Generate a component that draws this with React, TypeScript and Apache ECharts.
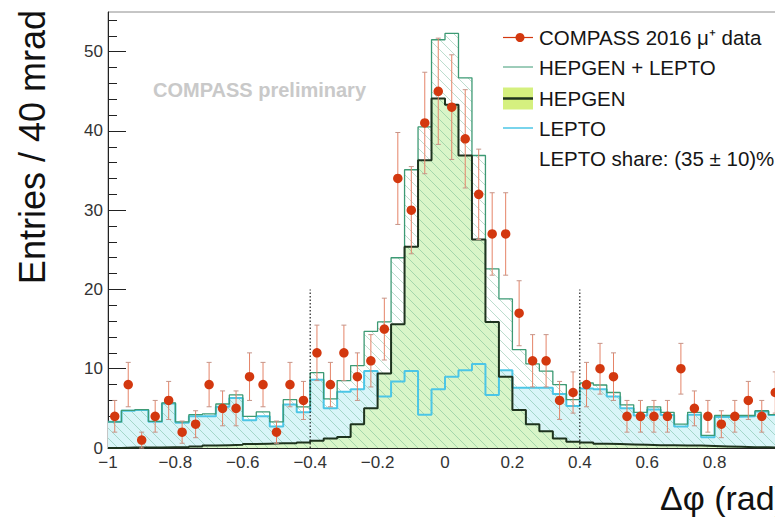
import { useEffect, useRef } from 'react';
import * as echarts from 'echarts';

// ---------------- data ----------------
const BIN_WIDTH = 0.04; // 40 mrad bins

const binCenters = [
  -0.98, -0.94, -0.9, -0.86, -0.82, -0.78, -0.74, -0.7, -0.66, -0.62,
  -0.58, -0.54, -0.5, -0.46, -0.42, -0.38, -0.34, -0.3, -0.26, -0.22,
  -0.18, -0.14, -0.1, -0.06, -0.02, 0.02, 0.06, 0.1, 0.14, 0.18,
  0.22, 0.26, 0.3, 0.34, 0.38, 0.42, 0.46, 0.5, 0.54, 0.58,
  0.62, 0.66, 0.7, 0.74, 0.78, 0.82, 0.86, 0.9, 0.94, 0.98,
];

// COMPASS 2016 mu+ data (entries per bin)
const dataCounts = [
  4, 8, 1, 4, 6, 2, 3, 8, 5, 5,
  9, 8, 2, 8, 6, 12, 8, 12, 9, 11,
  15, 34, 30, 41, 45, 43, 39, 32, 27, 27,
  17, 11, 11, 6, 7, 8, 10, 9, 4, 4,
  4, 4, 10, 5, 4, 3, 4, 6, 4, 7,
];

// statistical uncertainty of each data point
const dataErrors = [
  2.0, 2.8, 1.0, 2.0, 2.4, 1.4, 1.7, 2.8, 2.2, 2.2,
  3.0, 2.8, 1.4, 2.8, 2.4, 3.5, 2.8, 3.5, 3.0, 3.3,
  3.9, 5.8, 5.5, 6.4, 6.7, 6.6, 6.2, 5.7, 5.2, 5.2,
  4.1, 3.3, 3.3, 2.4, 2.6, 2.8, 3.2, 3.0, 2.0, 2.0,
  2.0, 2.0, 3.2, 2.2, 2.0, 1.7, 2.0, 2.4, 2.0, 2.6,
];

// HEPGEN (exclusive rho0) histogram
const hepgen = [
  0, 0.05, 0.05, 0.05, 0.1, 0.1, 0.2, 0.3, 0.35, 0.4,
  0.5, 0.55, 0.6, 0.6, 0.7, 0.9, 1.2, 1.4, 3.0, 5.0,
  9.4, 15.6, 25.4, 36.3, 44.1, 43.3, 36.9, 26.3, 15.9, 9.0,
  4.8, 3.0, 2.1, 1.2, 0.8, 0.7, 0.55, 0.5, 0.45, 0.4,
  0.35, 0.35, 0.3, 0.3, 0.25, 0.2, 0.15, 0.1, 0.1, 0.05,
];

// LEPTO (SIDIS background) histogram
const lepto = [
  3.3, 4.7, 4.8, 3.3, 5.6, 3.2, 4.0, 4.0, 5.2, 6.3,
  3.5, 4.0, 2.7, 5.5, 4.5, 8.6, 5.0, 7.1, 7.4, 9.7,
  6.5, 8.4, 9.7, 4.2, 7.4, 9.0, 9.8, 10.6, 6.7, 9.8,
  7.6, 7.6, 7.6, 6.8, 5.3, 7.5, 7.4, 6.5, 5.0, 4.1,
  4.85, 4.15, 2.7, 4.2, 1.35, 3.9, 3.95, 4.0, 4.6, 4.15,
];

const xTickLabels = [-1, -0.8, -0.6, -0.4, -0.2, 0, 0.2, 0.4, 0.6, 0.8, 1];
const yTickLabels = [0, 10, 20, 30, 40, 50];
const yMinorTicks = [2, 4, 6, 8, 12, 14, 16, 18, 22, 24, 26, 28, 32, 34, 36, 38, 42, 44, 46, 48, 52, 54];
const cutPositions = [-0.4, 0.4];
const cutHeight = 20;

const legendLabels = [
  'COMPASS 2016 \u03bc\u207a data',
  'HEPGEN + LEPTO',
  'HEPGEN',
  'LEPTO',
  'LEPTO share: (35 \u00b1 10)%',
];
const watermark = 'COMPASS preliminary';
const xTitle = '\u0394\u03c6 (rad)';
const yTitle = 'Entries / 40 mrad';

// ---------------- styling ----------------
const FONT = '"Liberation Sans", Arial, Helvetica, sans-serif';
const C_DATA = '#d3380f';
const C_ERR = '#e58468';
const C_CAP = '#c49488';
const C_TOTAL = '#3d9a74';
const C_HEP_LINE = '#1e331e';
const C_HEP_FILL = '#d9f5c8';
const C_HEP_LEG = '#d5f07f';
const C_LEP_LINE = '#4cc6e6';
const C_LEP_FILL = '#d9f5f8';
const C_HATCH = 'rgba(70,160,120,0.36)';
const C_AXIS = '#222';
const HATCH_SPACING = 10;

const total = hepgen.map((h, i) => h + lepto[i]);
const n = binCenters.length;

function stepData(vals: number[]) {
  const pts: number[][] = vals.map((v, i) => [binCenters[i] - BIN_WIDTH / 2, v]);
  pts.push([binCenters[n - 1] + BIN_WIDTH / 2, vals[n - 1]]);
  return pts;
}

function fmtX(v: number) {
  const r = Math.round(v * 100) / 100;
  return r < 0 ? '\u2212' + String(-r) : String(r);
}

function buildOption(): any {
  const hatchData = total.map((t, i) => [binCenters[i] - BIN_WIDTH / 2, binCenters[i] + BIN_WIDTH / 2, t]);
  const errData = dataCounts.map((c, i) => [binCenters[i], c, dataErrors[i]]);
  const ptData = dataCounts.map((c, i) => [binCenters[i], c]);

  const legendY = [37.5, 67, 98.5, 128, 158];
  const lx0 = 503;
  const lx1 = 533;

  const graphic: any[] = [
    {
      type: 'text', x: 153, y: 90, silent: true,
      style: { text: watermark, font: `bold 20px ${FONT}`, fill: '#c9c9c9', align: 'left', verticalAlign: 'middle', textAlign: 'left', textVerticalAlign: 'middle' },
    },
    {
      type: 'text', x: 32, y: 10, rotation: Math.PI / 2, silent: true,
      style: { text: yTitle, font: `36px ${FONT}`, fill: '#111', align: 'right', verticalAlign: 'middle', textAlign: 'right', textVerticalAlign: 'middle' },
    },
    {
      type: 'text', x: 786, y: 498, silent: true,
      style: { text: xTitle, font: `34px ${FONT}`, fill: '#111', align: 'right', verticalAlign: 'middle', textAlign: 'right', textVerticalAlign: 'middle' },
    },
    // legend symbols
    { type: 'line', shape: { x1: lx0, y1: legendY[0], x2: lx1, y2: legendY[0] }, style: { stroke: C_DATA, lineWidth: 1.2 } },
    { type: 'circle', shape: { cx: 520, cy: legendY[0], r: 4.5 }, style: { fill: C_DATA } },
    { type: 'line', shape: { x1: lx0, y1: legendY[1], x2: lx1, y2: legendY[1] }, style: { stroke: C_TOTAL, lineWidth: 1 } },
    { type: 'rect', shape: { x: lx0, y: legendY[2] - 11, width: lx1 - lx0, height: 22 }, style: { fill: C_HEP_LEG } },
    { type: 'line', shape: { x1: lx0, y1: legendY[2], x2: lx1, y2: legendY[2] }, style: { stroke: C_HEP_LINE, lineWidth: 2.5 } },
    { type: 'line', shape: { x1: lx0, y1: legendY[3], x2: lx1, y2: legendY[3] }, style: { stroke: C_LEP_LINE, lineWidth: 1.5 } },
  ];
  legendLabels.forEach((t, i) => {
    graphic.push({
      type: 'text', x: 539, y: legendY[i], silent: true,
      style: { text: t, font: `20.5px ${FONT}`, fill: '#151515', align: 'left', verticalAlign: 'middle', textAlign: 'left', textVerticalAlign: 'middle' },
    });
  });

  const series: any[] = [
    {
      type: 'line', step: 'end', data: stepData(lepto), symbol: 'none', silent: true, z: 1,
      lineStyle: { width: 0, opacity: 0 }, areaStyle: { color: C_LEP_FILL, opacity: 1 },
    },
    {
      type: 'line', step: 'end', data: stepData(hepgen), symbol: 'none', silent: true, z: 2,
      lineStyle: { width: 0, opacity: 0 }, areaStyle: { color: C_HEP_FILL, opacity: 1 },
    },
    {
      type: 'custom', data: hatchData, silent: true, z: 3,
      encode: { x: [0, 1], y: 2 },
      renderItem: (_p: any, api: any) => {
        const bl = api.coord([api.value(0), 0]);
        const tr = api.coord([api.value(1), api.value(2)]);
        const xL = bl[0], yB = bl[1], xR = tr[0], yT = tr[1];
        const children: any[] = [];
        const cMin = Math.ceil((yT - xR) / HATCH_SPACING) * HATCH_SPACING;
        for (let c = cMin; c <= yB - xL; c += HATCH_SPACING) {
          const xa = Math.max(xL, yT - c);
          const xb = Math.min(xR, yB - c);
          if (xb - xa > 0.2) {
            children.push({ type: 'line', shape: { x1: xa, y1: xa + c, x2: xb, y2: xb + c }, style: { stroke: C_HATCH, lineWidth: 1 } });
          }
        }
        return { type: 'group', children };
      },
    },
    {
      type: 'line', step: 'end', data: stepData(lepto), symbol: 'none', silent: true, z: 4,
      lineStyle: { color: C_LEP_LINE, width: 2 },
    },
    {
      type: 'line', step: 'end', data: stepData(total), symbol: 'none', silent: true, z: 5,
      lineStyle: { color: C_TOTAL, width: 1.3 },
    },
    {
      type: 'line', step: 'end', data: stepData(hepgen), symbol: 'none', silent: true, z: 6,
      lineStyle: { color: C_HEP_LINE, width: 2 },
    },
    ...cutPositions.map((p) => ({
      type: 'line', data: [[p, 0], [p, cutHeight]], symbol: 'none', silent: true, z: 7,
      lineStyle: { color: '#222', width: 1.2, type: [1.5, 2] },
    })),
    {
      type: 'custom', data: errData, silent: true, z: 8,
      encode: { x: 0, y: 1 },
      renderItem: (_p: any, api: any) => {
        const x = api.value(0), v = api.value(1), e = api.value(2);
        const top = api.coord([x, v + e]);
        const bot = api.coord([x, Math.max(0, v - e)]);
        return {
          type: 'group',
          children: [
            { type: 'line', shape: { x1: top[0], y1: top[1], x2: bot[0], y2: bot[1] }, style: { stroke: C_ERR, lineWidth: 1 } },
            { type: 'line', shape: { x1: top[0] - 2.5, y1: top[1], x2: top[0] + 2.5, y2: top[1] }, style: { stroke: C_CAP, lineWidth: 1 } },
            { type: 'line', shape: { x1: bot[0] - 2.5, y1: bot[1], x2: bot[0] + 2.5, y2: bot[1] }, style: { stroke: C_CAP, lineWidth: 1 } },
          ],
        };
      },
    },
    {
      type: 'scatter', data: ptData, symbol: 'circle', symbolSize: 9.5, silent: true, z: 9,
      itemStyle: { color: C_DATA, opacity: 1 },
    },
  ];

  return {
    animation: false,
    backgroundColor: '#ffffff',
    textStyle: { fontFamily: FONT },
    grid: {
      left: 108, top: 12, width: 674, height: 436,
      show: true, borderColor: '#8c8c8c', borderWidth: 1, backgroundColor: 'transparent',
      outerBoundsMode: 'none', containLabel: false,
    },
    xAxis: {
      type: 'value', min: -1, max: 1, interval: 0.2, position: 'bottom',
      axisLine: { show: true, onZero: false, lineStyle: { color: C_AXIS, width: 1 } },
      axisTick: { show: true, inside: true, length: 8, lineStyle: { color: C_AXIS, width: 1 } },
      minorTick: { show: true, splitNumber: 4, length: 5, lineStyle: { color: C_AXIS, width: 1 } },
      axisLabel: { show: true, fontSize: 17, color: '#333', margin: 6, fontFamily: FONT, formatter: fmtX, customValues: xTickLabels },
      splitLine: { show: false },
      minorSplitLine: { show: false },
    },
    yAxis: [
      {
        type: 'value', min: 0, max: 55, interval: 10, position: 'left',
        axisLine: { show: true, onZero: false, lineStyle: { color: C_AXIS, width: 1 } },
        axisTick: { show: true, inside: true, length: 18, lineStyle: { color: C_AXIS, width: 1 }, customValues: yTickLabels },
        axisLabel: {
          show: true, fontSize: 17, color: '#333', margin: 5, fontFamily: FONT, customValues: yTickLabels,
          formatter: (v: number) => (v % 10 === 0 ? String(v) : ''),
        },
        splitLine: { show: false },
      },
      {
        type: 'value', min: 0, max: 55, interval: 2, position: 'left', offset: 0,
        axisLine: { show: false, onZero: false },
        axisTick: { show: true, inside: true, length: 9, lineStyle: { color: C_AXIS, width: 1 }, customValues: yMinorTicks },
        axisLabel: { show: false },
        splitLine: { show: false },
      },
    ],
    graphic,
    series,
  };
}

export default function App() {
  const ref = useRef<HTMLDivElement>(null);
  useEffect(() => {
    if (!ref.current) return;
    const chart = echarts.init(ref.current, undefined, { renderer: 'svg' });
    chart.setOption(buildOption());
    return () => chart.dispose();
  }, []);
  return (
    <div style={{ position: 'absolute', left: 0, top: 0, width: 775, height: 518, overflow: 'hidden', background: '#fff' }}>
      <div ref={ref} style={{ width: 800, height: 518 }} />
    </div>
  );
}
